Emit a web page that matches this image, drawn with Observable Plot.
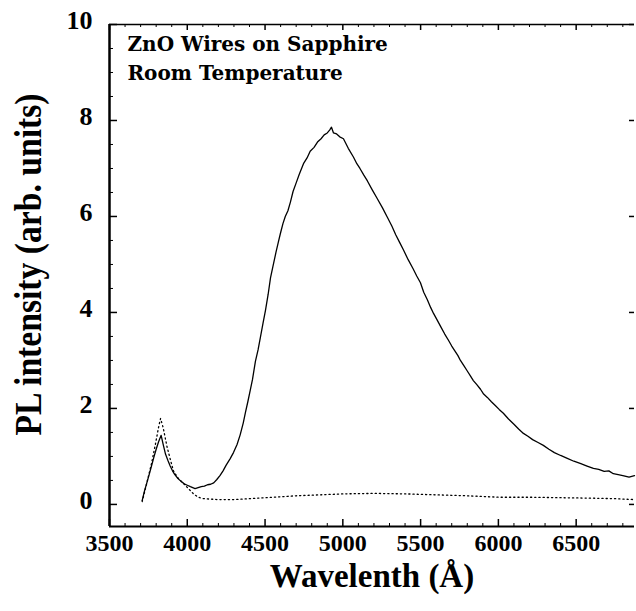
<!DOCTYPE html>
<html><head><meta charset="utf-8">
<script src="https://cdn.jsdelivr.net/npm/d3@7"></script>
<script src="https://cdn.jsdelivr.net/npm/@observablehq/plot@0.6"></script>
<style>html,body{margin:0;padding:0;background:#fff}#chart svg{display:block}</style>
</head><body><div id="chart"></div>
<script>
// Solid curve (ZnO wires PL spectrum)
const solidWavelength = [3710,3725,3740,3755,3770,3785,3800,3815,3832,3845,3860,3875,3890,3905,3920,3940,3960,3980,4000,4020,4050,4070,4090,4110,4130,4150,4170,4190,4210,4230,4250,4275,4297,4320,4340,4360,4374,4390,4405,4419,4438,4455,4470,4487,4503,4520,4535,4550,4570,4585,4599,4615,4630,4647,4663,4680,4700,4720,4747,4770,4790,4815,4837,4860,4880,4900,4915,4927,4940,4960,4980,5004,5035,5068,5090,5110,5135,5158,5190,5220,5255,5287,5315,5340,5365,5390,5420,5450,5475,5499,5520,5544,5565,5583,5605,5630,5655,5679,5700,5720,5740,5756,5780,5800,5820,5839,5860,5885,5905,5929,5955,5980,6005,6032,6065,6100,6130,6161,6190,6220,6255,6289,6325,6360,6400,6443,6485,6530,6570,6611,6645,6680,6710,6739,6770,6800,6840,6875];
const solidIntensity = [0.08,0.28,0.45,0.62,0.8,0.98,1.15,1.3,1.44,1.25,1.05,0.92,0.8,0.7,0.62,0.54,0.48,0.43,0.4,0.37,0.33,0.35,0.37,0.38,0.41,0.42,0.45,0.52,0.6,0.7,0.82,0.95,1.08,1.25,1.45,1.7,1.92,2.15,2.38,2.6,2.98,3.22,3.48,3.78,4.05,4.38,4.72,4.95,5.25,5.46,5.65,5.85,6.0,6.12,6.3,6.52,6.7,6.88,7.1,7.22,7.36,7.44,7.55,7.62,7.7,7.74,7.8,7.86,7.74,7.72,7.66,7.62,7.42,7.24,7.1,7.0,6.86,6.74,6.55,6.38,6.18,5.98,5.8,5.62,5.46,5.3,5.1,4.92,4.76,4.62,4.42,4.26,4.1,3.98,3.85,3.7,3.55,3.42,3.3,3.2,3.1,3.0,2.88,2.78,2.68,2.58,2.5,2.4,2.3,2.23,2.14,2.06,1.98,1.9,1.78,1.67,1.57,1.48,1.42,1.35,1.29,1.23,1.15,1.08,1.02,0.96,0.9,0.85,0.8,0.75,0.73,0.69,0.7,0.64,0.62,0.6,0.57,0.6];

// Dotted curve
const dottedWavelength = [3710,3740,3770,3796,3815,3828,3845,3870,3890,3911,3940,3975,4010,4040,4070,4105,4200,4300,4400,4500,4600,4700,4856,5000,5200,5400,5600,5800,6000,6200,6400,6600,6750,6875];
const dottedIntensity = [0.06,0.45,0.85,1.27,1.6,1.79,1.6,1.2,0.95,0.7,0.55,0.44,0.32,0.22,0.15,0.12,0.1,0.1,0.12,0.14,0.16,0.18,0.2,0.22,0.23,0.22,0.2,0.18,0.15,0.15,0.14,0.13,0.12,0.1];

const xTickLabels = [3500,4000,4500,5000,5500,6000,6500];
const yTickLabels = [0,2,4,6,8,10];
const xDomain = [3500, 6875];
const yDomain = [-0.46, 10];
const annotationLines = ["ZnO Wires on Sapphire", "Room Temperature"];
const xTitle = "Wavelenth (Å)";
const yTitle = "PL intensity (arb. units)";

const W = 636, H = 611;
const mL = 109, mR = 2, mT = 24, mB = 85;
const innerW = W - mL - mR, innerH = H - mT - mB;

const xMinor = d3.range(3600, 6875, 100).filter(v => v % 500 !== 0);
const yMinor = d3.range(0.5, 10, 0.5).filter(v => v % 2 !== 0);

const solid = solidWavelength.map((w, i) => ({w, v: solidIntensity[i]}));
const dotted = dottedWavelength.map((w, i) => ({w, v: dottedIntensity[i]}));

const serif = "'Liberation Serif', serif";
const slab = "'DejaVu Serif', serif";

const chart = Plot.plot({
  width: W, height: H,
  marginLeft: mL, marginRight: mR, marginTop: mT, marginBottom: mB,
  style: {background: "white", color: "black", fontFamily: serif, fontWeight: "bold"},
  x: {domain: xDomain, axis: null},
  y: {domain: yDomain, axis: null},
  marks: [
    // frame lines (left, bottom, top)
    Plot.ruleX([xDomain[0]], {x: d => d, stroke: "black", strokeWidth: 2.5}),
    Plot.ruleY([yDomain[0]], {y: d => d, stroke: "black", strokeWidth: 2}),
    Plot.ruleY([yDomain[1]], {y: d => d, stroke: "black", strokeWidth: 1.5}),
    // bottom ticks (inward)
    Plot.tickX(xTickLabels, {x: d => d, insetTop: innerH - 7, stroke: "black", strokeWidth: 1.5}),
    Plot.tickX(xMinor, {x: d => d, insetTop: innerH - 3, stroke: "black", strokeWidth: 1}),
    // top ticks
    Plot.tickX(xTickLabels, {x: d => d, insetBottom: innerH - 6, stroke: "black", strokeWidth: 1.5}),
    Plot.tickX(xMinor, {x: d => d, insetBottom: innerH - 3, stroke: "black", strokeWidth: 1}),
    // left ticks
    Plot.tickY(yTickLabels, {y: d => d, insetRight: innerW - 8, stroke: "black", strokeWidth: 1.5}),
    Plot.tickY(yMinor, {y: d => d, insetRight: innerW - 4, stroke: "black", strokeWidth: 1}),
    // right ticks
    Plot.tickY(yTickLabels, {y: d => d, insetLeft: innerW - 5, stroke: "black", strokeWidth: 1.5}),
    // tick labels
    Plot.text(xTickLabels, {x: d => d, text: d => String(d), frameAnchor: "bottom", dy: 7, lineAnchor: "top", textAnchor: "middle", fontSize: 24, fontFamily: serif, fontWeight: "bold", fill: "black"}),
    Plot.text(yTickLabels, {y: d => d, text: d => String(d), frameAnchor: "left", dx: -17, dy: -4, lineAnchor: "middle", textAnchor: "end", fontSize: 26, fontFamily: serif, fontWeight: "bold", fill: "black"}),
    // data
    Plot.line(dotted, {x: "w", y: "v", stroke: "black", strokeWidth: 1.3, strokeDasharray: "1.2 3", curve: "linear"}),
    Plot.line(solid, {x: "w", y: "v", stroke: "black", strokeWidth: 1.3, curve: "linear"}),
    // annotation
    Plot.text([annotationLines[0]], {text: d => d, frameAnchor: "top-left", dx: 18, dy: 26, lineAnchor: "bottom", textAnchor: "start", fontFamily: slab, fontWeight: "bold", fontSize: 20, fill: "black"}),
    Plot.text([annotationLines[1]], {text: d => d, frameAnchor: "top-left", dx: 18, dy: 55, lineAnchor: "bottom", textAnchor: "start", fontFamily: slab, fontWeight: "bold", fontSize: 20, fill: "black"}),
    // axis titles
    Plot.text([xTitle], {text: d => d, frameAnchor: "bottom", dy: 60, lineAnchor: "bottom", textAnchor: "middle", fontFamily: serif, fontWeight: "bold", fontSize: 33, fill: "black"}),
    Plot.text([yTitle], {text: d => d, frameAnchor: "left", dx: 40 - mL, dy: -11, rotate: -90, lineAnchor: "bottom", textAnchor: "middle", fontFamily: serif, fontWeight: "bold", fontSize: 38, fill: "black"})
  ]
});
document.getElementById("chart").appendChild(chart);
// condense the y title to the reference length
chart.querySelectorAll("text").forEach(t => {
  if (t.textContent === yTitle) {
    t.setAttribute("textLength", 342);
    t.setAttribute("lengthAdjust", "spacingAndGlyphs");
  }
});
</script>
</body></html>
